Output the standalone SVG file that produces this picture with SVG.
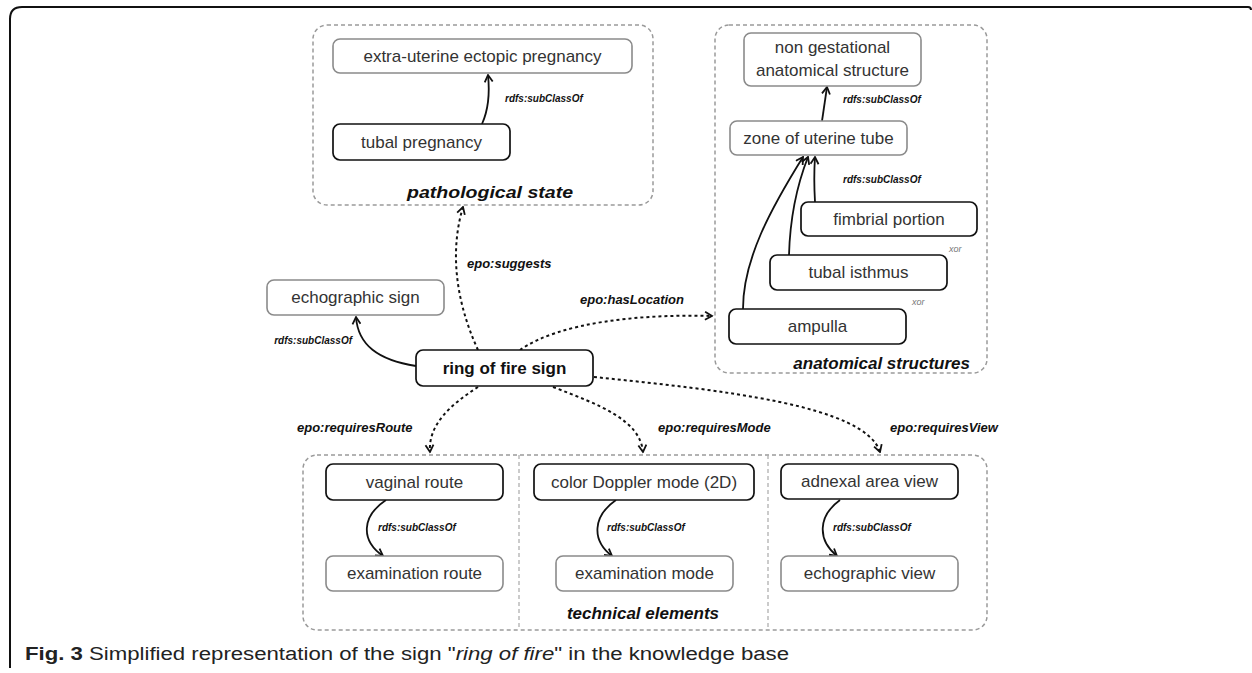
<svg xmlns="http://www.w3.org/2000/svg" width="1252" height="673" viewBox="0 0 1252 673">
<style>
text{font-family:"Liberation Sans",Arial,sans-serif}
.grp{fill:none;stroke:#9a9a9a;stroke-width:1.5;stroke-dasharray:4 3}
.div{fill:none;stroke:#b0b0b0;stroke-width:1.3;stroke-dasharray:4 3}
.nb{fill:#fff;stroke:#111;stroke-width:1.7}
.ng{fill:#fff;stroke:#8a8a8a;stroke-width:1.6}
.t{font-size:17px;fill:#333;text-anchor:middle}
.tb{font-size:17px;font-weight:bold;fill:#111;text-anchor:middle}
.gl{font-size:17px;font-weight:bold;font-style:italic;fill:#111}
.el{font-size:13px;font-weight:bold;font-style:italic;fill:#111}
.sl{font-size:10px;font-weight:bold;font-style:italic;fill:#111}
.xor{font-size:9px;font-style:italic;fill:#777}
.solid{fill:none;stroke:#111;stroke-width:1.8;marker-end:url(#ah)}
.dash{fill:none;stroke:#111;stroke-width:2;stroke-dasharray:3 3;marker-end:url(#ah)}
</style>
<defs>
<marker id="ah" viewBox="0 0 10 10" refX="8.5" refY="5" markerWidth="10" markerHeight="10" markerUnits="userSpaceOnUse" orient="auto">
<path d="M1.5,1 L8.5,5 L1.5,9" fill="none" stroke="#111" stroke-width="1.8" stroke-dasharray="none"/>
</marker>
</defs>
<rect width="1252" height="673" fill="#fff"/>
<path d="M10,668 L10,19 Q10,7 22,7 L1248,7 Q1251,7 1251,10" fill="none" stroke="#111" stroke-width="2"/>

<g id="group-pathological">
<rect class="grp" x="313" y="25" width="340" height="180" rx="14"/>
<text class="gl" x="490" y="198" text-anchor="middle" textLength="166" lengthAdjust="spacingAndGlyphs">pathological state</text>
</g>
<g id="group-anatomical">
<rect class="grp" x="715" y="25" width="272" height="348" rx="14"/>
<text class="gl" x="970" y="369" text-anchor="end">anatomical structures</text>
</g>
<g id="group-technical">
<rect class="grp" x="303" y="455" width="684" height="175" rx="14"/>
<line class="div" x1="519" y1="455" x2="519" y2="630"/>
<line class="div" x1="768" y1="455" x2="768" y2="630"/>
<text class="gl" x="719" y="619" text-anchor="end">technical elements</text>
</g>

<g id="connectors">
<path class="solid" d="M482,124 Q491,104 488,75"/>
<path class="solid" d="M822,121 L827,87"/>
<path class="solid" d="M815,202 C814,185 814,172 815,157"/>
<path class="solid" d="M789,255 C790,220 797,185 808,157"/>
<path class="solid" d="M743,309 C743,260 770,210 803,157"/>
<path class="solid" d="M416,366 C378,360 358,345 356,317"/>
<path class="solid" d="M386,500 C362,516 360,540 383,556"/>
<path class="solid" d="M616,500 C593,516 591,540 612,556"/>
<path class="solid" d="M840,500 C818,516 817,540 837,556"/>
<path class="dash" d="M478,350 C455,300 450,250 463,207"/>
<path class="dash" d="M520,350 C560,322 640,314 712,316"/>
<path class="dash" d="M478,387 C450,405 428,425 430,452"/>
<path class="dash" d="M553,387 C600,405 640,420 643,452"/>
<path class="dash" d="M594,377 C720,390 865,405 880,452"/>
<text class="sl" x="505" y="102">rdfs:subClassOf</text>
<text class="sl" x="843" y="103">rdfs:subClassOf</text>
<text class="sl" x="843" y="183">rdfs:subClassOf</text>
<text class="sl" x="352" y="344" text-anchor="end">rdfs:subClassOf</text>
<text class="sl" x="378" y="531">rdfs:subClassOf</text>
<text class="sl" x="607" y="531">rdfs:subClassOf</text>
<text class="sl" x="833" y="531">rdfs:subClassOf</text>
<text class="xor" x="949" y="252">xor</text>
<text class="xor" x="912" y="305">xor</text>
<text class="el" x="467" y="268">epo:suggests</text>
<text class="el" x="580" y="304">epo:hasLocation</text>
<text class="el" x="297" y="432">epo:requiresRoute</text>
<text class="el" x="658" y="432">epo:requiresMode</text>
<text class="el" x="890" y="432">epo:requiresView</text>
</g>

<g id="n-extra-uterine"><rect class="ng" x="333" y="39" width="299" height="34" rx="7"/><text class="t" x="482.5" y="62">extra-uterine ectopic pregnancy</text></g>
<g id="n-tubal-pregnancy"><rect class="nb" x="333" y="124" width="177" height="36" rx="7"/><text class="t" x="421.5" y="148">tubal pregnancy</text></g>
<g id="n-non-gestational"><rect class="ng" x="744" y="33" width="177" height="53" rx="7"/><text class="t" x="832.5" y="53">non gestational</text><text class="t" x="832.5" y="76">anatomical structure</text></g>
<g id="n-zone"><rect class="ng" x="730" y="121" width="177" height="34" rx="7"/><text class="t" x="818.5" y="144">zone of uterine tube</text></g>
<g id="n-fimbrial"><rect class="nb" x="801" y="202" width="176" height="34" rx="7"/><text class="t" x="889" y="225">fimbrial portion</text></g>
<g id="n-isthmus"><rect class="nb" x="770" y="255" width="177" height="35" rx="7"/><text class="t" x="858.5" y="278">tubal isthmus</text></g>
<g id="n-ampulla"><rect class="nb" x="729" y="309" width="177" height="35" rx="7"/><text class="t" x="817.5" y="332">ampulla</text></g>
<g id="n-echographic-sign"><rect class="ng" x="267" y="280" width="177" height="35" rx="7"/><text class="t" x="355.5" y="303">echographic sign</text></g>
<g id="n-ring-of-fire"><rect class="nb" x="416" y="350" width="177" height="36" rx="7"/><text class="tb" x="504.5" y="374">ring of fire sign</text></g>
<g id="n-vaginal-route"><rect class="nb" x="326" y="464" width="177" height="36" rx="7"/><text class="t" x="414.5" y="488">vaginal route</text></g>
<g id="n-examination-route"><rect class="ng" x="326" y="556" width="177" height="35" rx="7"/><text class="t" x="414.5" y="579">examination route</text></g>
<g id="n-color-doppler"><rect class="nb" x="534" y="464" width="220" height="36" rx="7"/><text class="t" x="644" y="488">color Doppler mode (2D)</text></g>
<g id="n-examination-mode"><rect class="ng" x="556" y="556" width="177" height="35" rx="7"/><text class="t" x="644.5" y="579">examination mode</text></g>
<g id="n-adnexal"><rect class="nb" x="781" y="464" width="177" height="35" rx="7"/><text class="t" x="869.5" y="487">adnexal area view</text></g>
<g id="n-echographic-view"><rect class="ng" x="781" y="556" width="177" height="35" rx="7"/><text class="t" x="869.5" y="579">echographic view</text></g>

<text x="25" y="660" font-size="18" fill="#222" textLength="764" lengthAdjust="spacingAndGlyphs"><tspan font-weight="bold">Fig. 3</tspan> Simplified representation of the sign "<tspan font-style="italic">ring of fire</tspan>" in the knowledge base</text>
</svg>
